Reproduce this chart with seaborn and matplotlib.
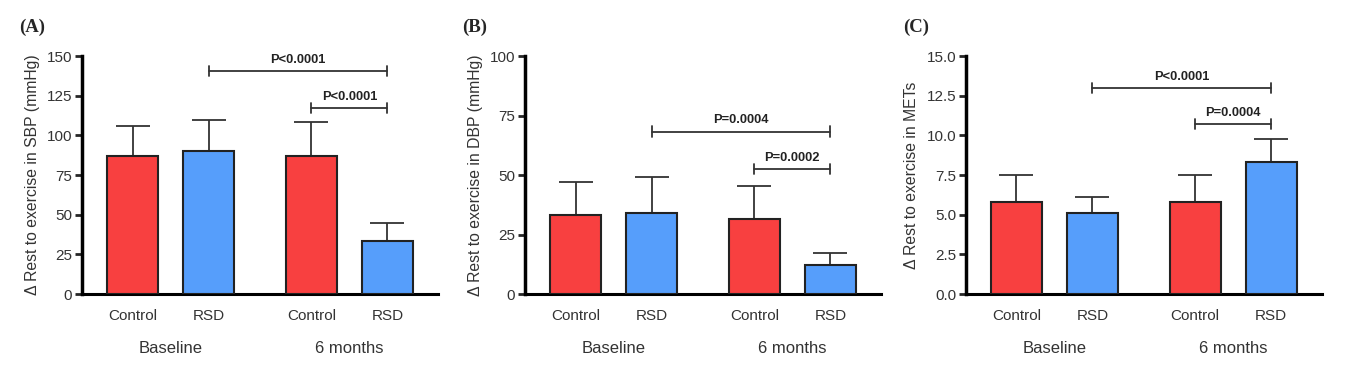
import numpy as np
import pandas as pd
import matplotlib
matplotlib.use("Agg")
import matplotlib.pyplot as plt
import matplotlib.transforms as mtransforms
import seaborn as sns

# data (mean and upper SD bar)
groups = ["Control", "RSD", "Control", "RSD"]
timepoints = ["Baseline", "Baseline", "6 months", "6 months"]
positions = [0, 1, 2.35, 3.35]

sbp_mean = [87.0, 90.3, 87.0, 33.2]
sbp_sd = [18.7, 19.6, 21.2, 11.3]
dbp_mean = [33.3, 34.0, 31.7, 12.1]
dbp_sd = [13.7, 15.0, 13.5, 5.3]
mets_mean = [5.78, 5.09, 5.78, 8.34]
mets_sd = [1.70, 1.02, 1.72, 1.41]

panels = [
    dict(tag="(A)", mean=sbp_mean, sd=sbp_sd, ylim=150, step=25, fmt="{:.0f}",
         ylabel="\u0394 Rest to exercise in SBP (mmHg)",
         brackets=[(1, 3, 140.5, "P<0.0001"), (2, 3, 117.4, "P<0.0001")]),
    dict(tag="(B)", mean=dbp_mean, sd=dbp_sd, ylim=100, step=25, fmt="{:.0f}",
         ylabel="\u0394 Rest to exercise in DBP (mmHg)",
         brackets=[(1, 3, 68.2, "P=0.0004"), (2, 3, 52.6, "P=0.0002")]),
    dict(tag="(C)", mean=mets_mean, sd=mets_sd, ylim=15, step=2.5, fmt="{:.1f}",
         ylabel="\u0394 Rest to exercise in METs",
         brackets=[(1, 3, 13.0, "P<0.0001"), (2, 3, 10.71, "P=0.0004")]),
]

sns.set_style("white")
plt.rcParams["font.family"] = ["Liberation Sans", "DejaVu Sans"]

red = "#F84040"
blue = "#569EFB"
txt = "#333333"

fig = plt.figure(figsize=(13.61, 3.86), dpi=100)
lefts = [0.0602, 0.3857, 0.7096]
width = 0.2616
bottom = 0.2383
height = 0.6165

for i, p in enumerate(panels):
    ax = fig.add_axes([lefts[i], bottom, width, height])
    df = pd.DataFrame({"pos": positions, "val": p["mean"], "group": groups})
    sns.barplot(data=df, x="pos", y="val", hue="group", native_scale=True,
                palette={"Control": red, "RSD": blue}, width=0.67,
                saturation=1, errorbar=None, edgecolor="#222222", linewidth=1.5,
                dodge=False, legend=False, ax=ax, zorder=3)
    ax.errorbar(positions, p["mean"], yerr=[np.zeros(4), p["sd"]], fmt="none",
                ecolor="#333333", elinewidth=1.3, capsize=12.5, capthick=1.3,
                zorder=2)
    ax.set_xlim(-0.665, 4.015)
    ax.set_ylim(0, p["ylim"])
    ticks = np.arange(0, p["ylim"] + p["step"] / 2, p["step"])
    ax.set_yticks(ticks, [p["fmt"].format(t) for t in ticks])
    ax.set_xticks(positions, groups)
    ax.tick_params(axis="x", length=0, pad=11, labelsize=11, labelcolor=txt)
    ax.tick_params(axis="y", length=5, width=2, direction="out", pad=2,
                   labelsize=11, labelcolor=txt, left=True)
    ax.set_xlabel("")
    ax.set_ylabel(p["ylabel"], fontsize=11.3, color=txt, labelpad=5)
    sns.despine(ax=ax)
    ax.spines["left"].set_linewidth(2.5)
    ax.spines["bottom"].set_linewidth(2.2)
    ax.spines["left"].set_color("black")
    ax.spines["bottom"].set_color("black")

    trans = mtransforms.blended_transform_factory(ax.transData, ax.transAxes)
    ax.text(0.5, -0.227, "Baseline", transform=trans, ha="center", va="center",
            fontsize=12, color=txt)
    ax.text(2.85, -0.227, "6 months", transform=trans, ha="center", va="center",
            fontsize=12, color=txt)

    # significance brackets
    tick_h = p["ylim"] * 0.022
    for a, b, yb, label in p["brackets"]:
        xa, xb = positions[a], positions[b]
        ax.plot([xa, xb], [yb, yb], color="#333333", lw=1.3, zorder=4)
        for xx in (xa, xb):
            ax.plot([xx, xx], [yb - tick_h, yb + tick_h], color="#333333",
                    lw=1.3, zorder=4)
        ax.text((xa + xb) / 2, yb + p["ylim"] * 0.022, label, ha="center",
                va="bottom", fontsize=9.3, fontweight="bold", color="#222222")

    fig.text(lefts[i] - 0.046, 0.93, p["tag"], fontsize=13.5, fontweight="bold",
             family=["Liberation Serif", "DejaVu Serif"], ha="left", va="center")

fig.savefig("out.png", dpi=100)
